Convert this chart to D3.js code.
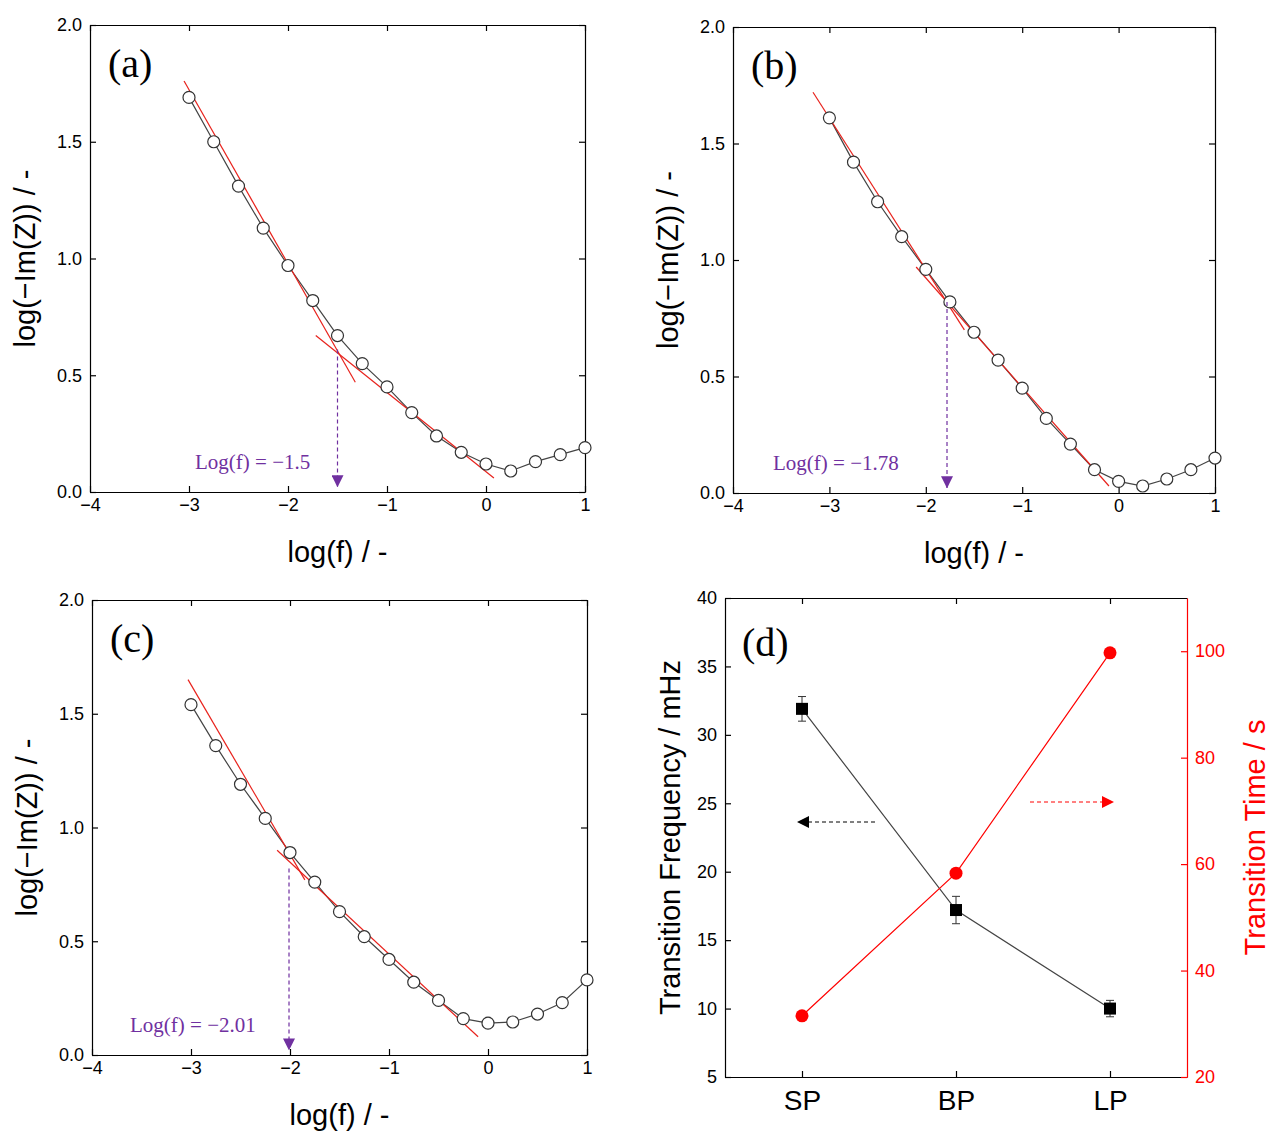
<!DOCTYPE html>
<html><head><meta charset="utf-8">
<script src="https://cdn.jsdelivr.net/npm/d3@7"></script>
<style>body{margin:0;background:#fff}text{font-family:Arial,"Liberation Sans",sans-serif}</style>
</head><body>
<svg id="c" width="1281" height="1142"></svg>
<script>
var logF = [-3,-2.75,-2.5,-2.25,-2,-1.75,-1.5,-1.25,-1,-0.75,-0.5,-0.25,0,0.25,0.5,0.75,1];
var imA = [1.69,1.50,1.31,1.13,0.97,0.82,0.67,0.55,0.45,0.34,0.24,0.17,0.12,0.09,0.13,0.16,0.19];
var imB = [1.61,1.42,1.25,1.10,0.96,0.82,0.69,0.57,0.45,0.32,0.21,0.10,0.05,0.03,0.06,0.10,0.15];
var imC = [1.54,1.36,1.19,1.04,0.89,0.76,0.63,0.52,0.42,0.32,0.24,0.16,0.14,0.145,0.18,0.23,0.33];
// fit lines: [x1,y1,x2,y2]
var fitA = [[-3.05,1.76,-1.32,0.47],[-1.72,0.67,0.08,0.06]];
var fitB = [[-3.17,1.72,-1.6,0.70],[-2.1,0.97,-0.1,0.03]];
var fitC = [[-3.03,1.65,-1.85,0.77],[-2.13,0.90,-0.10,0.08]];
var arrowA = [-1.5,0.61], arrowB = [-1.78,0.82], arrowC = [-2.01,0.82];
var labelA = "Log(f) = \u22121.5", labelB = "Log(f) = \u22121.78", labelC = "Log(f) = \u22122.01";
var samples = ["SP","BP","LP"];
var freq = [31.9,17.2,10.0];
var freqErr = [0.9,1.0,0.6];
var ttime = [31.5,58.3,99.7];

var svg = d3.select("#c");
var purple = "#7030a0";
svg.append("defs").append("marker").attr("id","tri").attr("viewBox","0 0 10 10")
  .attr("refX",5).attr("refY",10).attr("markerWidth",12).attr("markerHeight",12).attr("markerUnits","userSpaceOnUse")
  .attr("orient","0").append("path").attr("d","M0,0L10,0L5,10Z").attr("fill",purple);

function panel(b, ys, fits, arrow, label, letter, labelX) {
  var x = d3.scaleLinear().domain([-4,1]).range([b.l,b.r]);
  var y = d3.scaleLinear().domain([0,2]).range([b.b,b.t]);
  var g = svg.append("g");
  g.append("g").attr("transform","translate(0,"+b.b+")")
    .call(d3.axisBottom(x).tickValues([-4,-3,-2,-1,0,1]).tickFormat(function(d){return d<0?"\u2212"+(-d):d;}).tickSizeInner(-6).tickSizeOuter(0).tickPadding(6));
  g.append("g").attr("transform","translate("+b.l+",0)")
    .call(d3.axisLeft(y).tickValues([0,0.5,1,1.5,2]).tickFormat(d3.format(".1f")).tickSizeInner(-6).tickSizeOuter(0).tickPadding(8));
  g.append("g").attr("transform","translate(0,"+b.t+")").call(d3.axisTop(x).tickValues([-4,-3,-2,-1,0,1]).tickFormat("").tickSizeInner(-6).tickSizeOuter(0));
  g.append("g").attr("transform","translate("+b.r+",0)").call(d3.axisRight(y).tickValues([0,0.5,1,1.5,2]).tickFormat("").tickSizeInner(-6).tickSizeOuter(0));
  g.selectAll(".tick text").attr("font-size",18).attr("fill","#000");
  g.selectAll(".domain,.tick line").attr("stroke","#000").attr("stroke-width",1.2);
  g.append("path").datum(logF).attr("fill","none").attr("stroke","#444").attr("stroke-width",1.2)
    .attr("d",d3.line().x(function(d){return x(d);}).y(function(d,i){return y(ys[i]);}));
  fits.forEach(function(f){
    g.append("line").attr("x1",x(f[0])).attr("y1",y(f[1])).attr("x2",x(f[2])).attr("y2",y(f[3]))
      .attr("stroke","#e8221c").attr("stroke-width",1.2);
  });
  g.selectAll("circle").data(logF).enter().append("circle")
    .attr("cx",function(d){return x(d);}).attr("cy",function(d,i){return y(ys[i]);})
    .attr("r",6).attr("fill","#fff").attr("stroke","#333").attr("stroke-width",1.2);
  g.append("line").attr("x1",x(arrow[0])).attr("x2",x(arrow[0])).attr("y1",y(arrow[1])).attr("y2",y(0.02))
    .attr("stroke",purple).attr("stroke-dasharray","4,3").attr("stroke-width",1.2).attr("marker-end","url(#tri)");
  g.append("text").attr("x",labelX).attr("y",y(0.1)).attr("fill",purple).attr("font-size",21)
    .attr("style","font-family:'Liberation Serif',serif").text(label);
  g.append("text").attr("x",b.l+18).attr("y",b.t+52).attr("font-size",40)
    .attr("style","font-family:'Liberation Serif',serif").text(letter);
  g.append("text").attr("x",(b.l+b.r)/2).attr("y",b.b+70).attr("text-anchor","middle").attr("font-size",29).text("log(f) / -");
  g.append("text").attr("transform","translate("+(b.l-55)+","+((b.t+b.b)/2)+") rotate(-90)")
    .attr("text-anchor","middle").attr("font-size",29).text("log(\u2212Im(Z)) / -");
}
panel({l:90,r:585,t:25,b:492}, imA, fitA, arrowA, labelA, "(a)", 195);
panel({l:733,r:1215,t:27,b:493}, imB, fitB, arrowB, labelB, "(b)", 773);
panel({l:92,r:587,t:600,b:1055}, imC, fitC, arrowC, labelC, "(c)", 130);

// panel d
(function(){
  var b = {l:725,r:1187,t:598,b:1077};
  var x = d3.scalePoint().domain(samples).range([b.l,b.r]).padding(0.5);
  var y = d3.scaleLinear().domain([5,40]).range([b.b,b.t]);
  var y2 = d3.scaleLinear().domain([20,110]).range([b.b,b.t]);
  var red = "#ff0000";
  var g = svg.append("g");
  g.append("g").attr("transform","translate(0,"+b.b+")").call(d3.axisBottom(x).tickSizeInner(-6).tickSizeOuter(0).tickPadding(8))
    .selectAll("text").attr("font-size",28).attr("dy","0.9em");
  g.append("g").attr("transform","translate(0,"+b.t+")").call(d3.axisTop(x).tickFormat("").tickSizeInner(-6).tickSizeOuter(0));
  var la = g.append("g").attr("transform","translate("+b.l+",0)").call(d3.axisLeft(y).tickValues(d3.range(5,41,5)).tickSizeInner(-6).tickSizeOuter(0).tickPadding(8));
  la.selectAll("text").attr("font-size",18);
  var ra = g.append("g").attr("transform","translate("+b.r+",0)").call(d3.axisRight(y2).tickValues(d3.range(20,111,20)).tickSizeInner(-6).tickSizeOuter(0).tickPadding(8));
  ra.selectAll("text").attr("font-size",18).attr("fill",red);
  ra.selectAll(".domain,.tick line").attr("stroke",red);
  g.selectAll(".domain,.tick line").filter(function(){return this.getAttribute("stroke")!==red;}).attr("stroke","#000");
  g.selectAll(".domain,.tick line").attr("stroke-width",1.2);
  g.append("path").datum(samples).attr("fill","none").attr("stroke","#444").attr("stroke-width",1.2)
    .attr("d",d3.line().x(function(d){return x(d);}).y(function(d,i){return y(freq[i]);}));
  g.append("path").datum(samples).attr("fill","none").attr("stroke",red).attr("stroke-width",1.2)
    .attr("d",d3.line().x(function(d){return x(d);}).y(function(d,i){return y2(ttime[i]);}));
  samples.forEach(function(s,i){
    var cx = x(s);
    g.append("line").attr("x1",cx).attr("x2",cx).attr("y1",y(freq[i]-freqErr[i])).attr("y2",y(freq[i]+freqErr[i])).attr("stroke","#333");
    [freq[i]-freqErr[i],freq[i]+freqErr[i]].forEach(function(v){
      g.append("line").attr("x1",cx-4).attr("x2",cx+4).attr("y1",y(v)).attr("y2",y(v)).attr("stroke","#333");
    });
    g.append("rect").attr("x",cx-6).attr("y",y(freq[i])-6).attr("width",12).attr("height",12).attr("fill","#000");
    g.append("circle").attr("cx",cx).attr("cy",y2(ttime[i])).attr("r",6.5).attr("fill",red);
  });
  // direction arrows
  g.append("line").attr("x1",875).attr("x2",808).attr("y1",822).attr("y2",822).attr("stroke","#000").attr("stroke-dasharray","4,3");
  g.append("path").attr("d","M797,822L809,816L809,828Z").attr("fill","#000");
  g.append("line").attr("x1",1030).attr("x2",1102).attr("y1",802).attr("y2",802).attr("stroke",red).attr("stroke-dasharray","4,3");
  g.append("path").attr("d","M1114,802L1102,796L1102,808Z").attr("fill",red);
  g.append("text").attr("x",b.l+17).attr("y",b.t+58).attr("font-size",40).attr("style","font-family:'Liberation Serif',serif").text("(d)");
  g.append("text").attr("transform","translate("+(b.l-45)+","+((b.t+b.b)/2)+") rotate(-90)")
    .attr("text-anchor","middle").attr("font-size",29).text("Transition Frequency / mHz");
  g.append("text").attr("transform","translate("+(b.r+78)+","+((b.t+b.b)/2)+") rotate(-90)")
    .attr("text-anchor","middle").attr("font-size",29).attr("fill",red).text("Transition Time / s");
})();
</script>
</body></html>
